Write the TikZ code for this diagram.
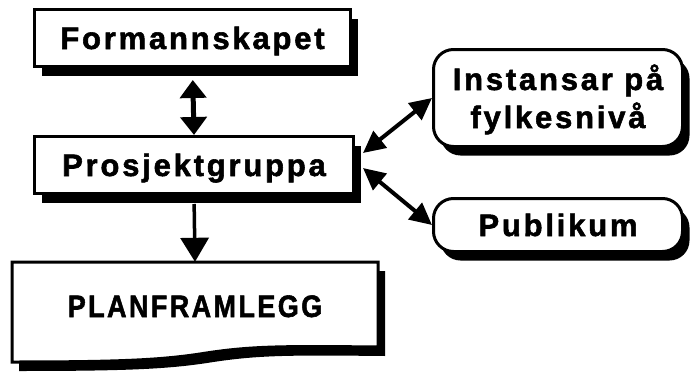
\documentclass[tikz,border=0pt]{standalone}
\usepackage{fontspec}
\newfontfamily\boxfont[LetterSpace=9,FakeBold=1.8]{Liberation Sans}
\usetikzlibrary{arrows.meta,shadows}
\begin{document}
\begin{tikzpicture}[x=1pt,y=-1pt,
  txt/.style={inner sep=0pt,font=\boxfont\bfseries\fontsize{31}{38}\selectfont,text height=22pt,text depth=0pt},
  boxbase/.style={txt,draw=black,line width=3pt,fill=white,
     drop shadow={shadow xshift=7pt,shadow yshift=-9pt,fill=black,opacity=1}},
  sqbox/.style={boxbase},
  rbox/.style={boxbase,rounded corners=20pt},
  vconn/.style={line width=5pt,{Triangle[length=18pt,width=26pt]}-{Triangle[length=18pt,width=26pt]}},
  downconn/.style={line width=3.5pt,-{Triangle[length=24pt,width=28pt]}},
  dconn/.style={line width=4pt,{Triangle[length=22pt,width=21pt]}-{Triangle[length=22pt,width=21pt]}},
  docshadow/.style={fill=black},
  docline/.style={draw=black,line width=3pt,fill=white}
]
\useasboundingbox (0,0) rectangle (691,372);
\node[sqbox, minimum width=316pt, minimum height=57pt] (form) at (192.5,38) {Formannskapet};
\node[sqbox, minimum width=319pt, minimum height=57pt] (prosj) at (194,165) {Prosjektgruppa};
\node[rbox, minimum width=249pt, minimum height=97pt, align=center, text height=60pt, text depth=0pt] (inst) at (558,98) {Instansar på\\fylkesnivå};
\node[rbox, minimum width=249pt, minimum height=53pt] (pub) at (558,225) {Publikum};
% document shape for PLANFRAMLEGG
\path[docshadow] (19,271) -- (385,271) -- (385,356) .. controls (287,355) and (257,355) .. (207,363) .. controls (167,369) and (127,371) .. (19,371) -- cycle;
\path[docline] (12,262) -- (378,262) -- (378,347) .. controls (280,346) and (250,346) .. (200,354) .. controls (160,360) and (120,362) .. (12,362) -- cycle;
\node[txt, minimum width=366pt, minimum height=88pt] (plan) at (195,306) {\scalebox{0.87}[1]{PLANFRAMLEGG}};
% connectors
\draw[vconn, shorten <=12pt] (form.south) -- (prosj.north);
\draw[downconn, shorten <=9pt] (prosj.south) -- (plan.north);
\draw[dconn] ([shift={(8,-12)}]prosj.east) -- (inst.west);
\draw[dconn] ([shift={(8,3)}]prosj.east) -- (pub.west);
\end{tikzpicture}
\end{document}
